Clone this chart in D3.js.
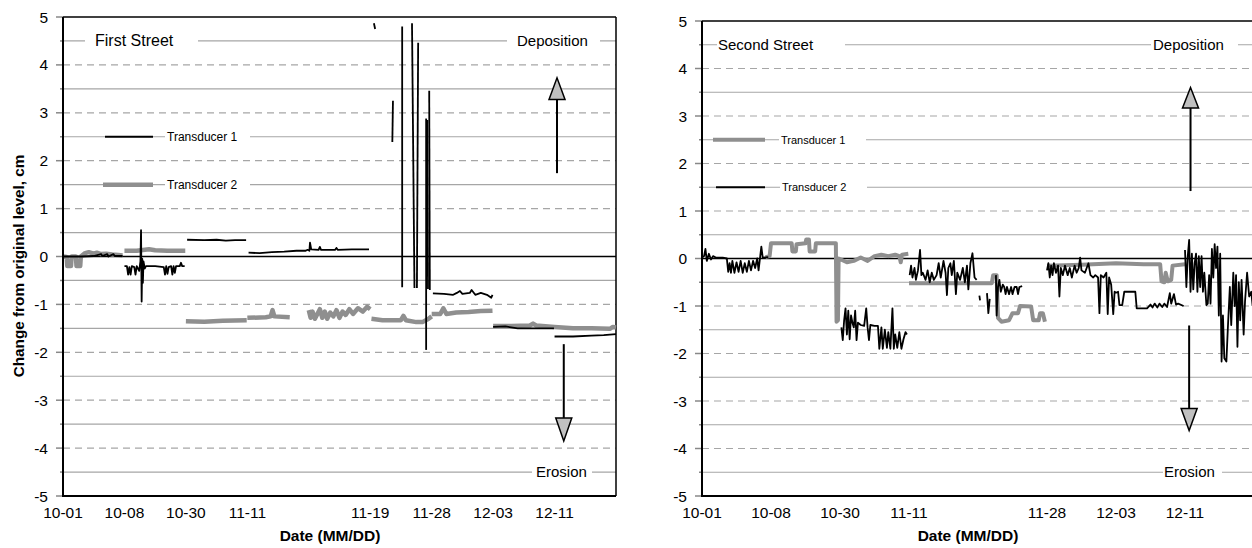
<!DOCTYPE html>
<html>
<body>
    <style>
        body, html {
            margin: 0;
            padding: 0;
            background: #fff;
        }

        svg {
            position: absolute;
            top: 0;
            left: 0;
            font-family: "Liberation Sans", Arial, sans-serif;
        }
    </style>

    <svg width="1252" height="548"></svg>

    <script src="https://cdn.jsdelivr.net/npm/d3@7"></script>

    <script>
        // x values are positions on the category axis (0 = first date label)
        var labels1 = ["10-01", "10-08", "10-30", "11-11", "", "11-19", "11-28", "12-03", "12-11"];
        var labels2 = ["10-01", "10-08", "10-30", "11-11", "", "11-28", "12-03", "12-11"];
        var yTicks = [-5, -4, -3, -2, -1, 0, 1, 2, 3, 4, 5];
        var yGrid = [-4.5, -4, -3.5, -3, -2.5, -2, -1.5, -1, -0.5, 0.5, 1, 1.5, 2, 2.5, 3, 3.5, 4, 4.5];

        // FIRST STREET - transducer 1 (black), segments
        var first1 = [
            [[0, 0], [0.3, 0], [0.5, 0.01], [0.62, 0.05], [0.64, 0.01], [0.72, 0.05], [0.74, 0], [0.82, 0.05], [0.84, 0.01], [0.97, 0.01]],
            [[1.0, -0.2], [1.04, -0.2], [1.06, -0.38], [1.08, -0.22], [1.1, -0.38], [1.12, -0.2], [1.16, -0.22], [1.18, -0.38], [1.2, -0.2],
             [1.24, -0.3], [1.26, -0.1], [1.27, 0.55], [1.28, -0.94], [1.29, -0.05], [1.3, -0.55], [1.31, -0.1], [1.33, -0.25], [1.35, -0.2],
             [1.5, -0.2], [1.64, -0.22], [1.66, -0.38], [1.68, -0.2], [1.7, -0.36], [1.72, -0.22], [1.76, -0.2], [1.78, -0.38], [1.8, -0.2],
             [1.82, -0.34], [1.84, -0.2], [1.9, -0.2], [1.92, -0.13], [1.94, -0.2], [1.98, -0.2]],
            [[2.02, 0.35], [2.3, 0.34], [2.5, 0.35], [2.65, 0.33], [2.8, 0.34], [2.98, 0.34]],
            [[3.02, 0.08], [3.2, 0.07], [3.4, 0.09], [3.6, 0.1], [3.8, 0.12], [3.95, 0.12], [3.98, 0.14], [4.01, 0.12], [4.02, 0.29],
             [4.04, 0.15], [4.16, 0.14], [4.18, 0.2], [4.2, 0.14], [4.43, 0.14], [4.45, 0.18], [4.47, 0.14], [4.7, 0.15], [4.98, 0.15]],
            [[5.06, 4.87], [5.08, 4.75]],
            [[5.37, 3.25], [5.36, 2.39]],
            [[5.52, 4.8], [5.52, -0.64]],
            [[5.68, 4.87], [5.72, -0.66]],
            [[5.78, 4.46], [5.76, -0.66]],
            [[5.91, 2.88], [5.91, -1.95]],
            [[5.93, 2.85], [5.94, -0.68]],
            [[5.96, 3.46], [5.97, -0.7]],
            [[6.02, -0.77], [6.2, -0.78], [6.35, -0.8], [6.41, -0.76], [6.46, -0.72], [6.5, -0.78], [6.62, -0.76], [6.65, -0.7],
             [6.71, -0.8], [6.8, -0.76], [6.9, -0.8], [6.97, -0.86], [6.99, -0.8]],
            [[7.0, -1.47], [7.2, -1.46], [7.4, -1.5], [7.6, -1.5], [7.8, -1.5], [7.99, -1.5]],
            [[8.0, -1.67], [8.3, -1.67], [8.6, -1.65], [8.8, -1.64], [9.0, -1.62]]
        ];

        // FIRST STREET - transducer 2 (gray)
        var first2 = [
            [[0, 0], [0.06, -0.01], [0.07, -0.2], [0.13, -0.2], [0.14, 0], [0.21, 0], [0.22, -0.2], [0.28, -0.2], [0.29, 0],
             [0.36, 0.07], [0.42, 0.09], [0.5, 0.06], [0.55, 0.08], [0.62, 0.05], [0.7, 0.06], [0.8, 0.04], [0.9, 0.03], [0.97, 0.02]],
            [[1.0, 0.12], [1.2, 0.12], [1.4, 0.15], [1.5, 0.13], [1.7, 0.12], [1.99, 0.12]],
            [[2.0, -1.35], [2.3, -1.36], [2.6, -1.34], [2.99, -1.33]],
            [[3.0, -1.28], [3.3, -1.27], [3.38, -1.25], [3.41, -1.12], [3.44, -1.25], [3.69, -1.27]],
            [[4.0, -1.12], [4.03, -1.28], [4.06, -1.15], [4.1, -1.3], [4.14, -1.2], [4.18, -1.1], [4.22, -1.28], [4.26, -1.15],
             [4.3, -1.3], [4.35, -1.17], [4.4, -1.25], [4.45, -1.12], [4.5, -1.28], [4.55, -1.15], [4.6, -1.22], [4.66, -1.1],
             [4.72, -1.2], [4.8, -1.08], [4.88, -1.15], [4.95, -1.05], [5.0, -1.1]],
            [[5.02, -1.3], [5.2, -1.33], [5.5, -1.33], [5.54, -1.24], [5.58, -1.33], [5.75, -1.37], [5.85, -1.37], [5.95, -1.3], [6.0, -1.25]],
            [[6.0, -1.2], [6.14, -1.2], [6.19, -1.08], [6.24, -1.2], [6.4, -1.17], [6.6, -1.16], [6.8, -1.14], [6.99, -1.13]],
            [[7.0, -1.45], [7.3, -1.45], [7.6, -1.44], [7.65, -1.4], [7.7, -1.44], [8.0, -1.47], [8.3, -1.5], [8.6, -1.5],
             [8.9, -1.51], [8.95, -1.47], [9.0, -1.48]]
        ];

        // SECOND STREET - transducer 1 (gray)
        var second1 = [
            [[0.92, 0.03], [0.98, 0.05], [1.0, 0.32], [1.3, 0.32], [1.31, 0.15], [1.36, 0.15], [1.37, 0.3], [1.5, 0.32], [1.51, 0.4],
             [1.55, 0.4], [1.56, 0.15], [1.64, 0.15], [1.65, 0.32], [1.94, 0.32], [1.95, -1.33], [1.97, -1.3], [1.98, 0.0],
             [2.1, -0.08], [2.2, -0.05], [2.3, 0.02], [2.4, -0.05], [2.5, 0.05], [2.6, 0.08], [2.7, 0.05], [2.8, 0.08],
             [2.86, 0.05], [2.88, -0.08], [2.9, 0.08], [2.99, 0.1]],
            [[3.0, -0.52], [4.2, -0.52], [4.22, -0.35], [4.27, -0.35], [4.29, -1.25], [4.34, -1.33], [4.45, -1.3], [4.5, -1.15],
             [4.58, -1.15], [4.61, -1.0], [4.77, -1.01], [4.8, -1.3], [4.88, -1.3], [4.9, -1.15], [4.94, -1.15], [4.97, -1.33]],
            [[5.0, -0.15], [5.5, -0.13], [6.0, -0.1], [6.4, -0.12], [6.64, -0.12], [6.66, -0.48], [6.7, -0.5], [6.72, -0.3],
             [6.75, -0.48], [6.8, -0.45], [6.82, -0.15], [7.0, -0.12]]
        ];

        // SECOND STREET - transducer 2 (black)
        var second2 = [
            [[0.0, 0.02], [0.03, 0.05], [0.05, 0.2], [0.07, -0.05], [0.1, 0.1], [0.13, -0.02], [0.16, 0.05], [0.2, 0.02], [0.3, 0.02],
             [0.36, 0.0], [0.38, -0.28], [0.4, -0.1], [0.42, -0.3], [0.44, -0.05], [0.47, -0.3], [0.5, -0.08], [0.53, -0.28],
             [0.56, -0.05], [0.59, -0.3], [0.62, -0.1], [0.65, -0.28], [0.68, -0.05], [0.71, -0.25], [0.74, -0.05], [0.77, -0.2],
             [0.8, 0.0], [0.82, -0.25], [0.84, 0.0], [0.86, 0.25], [0.88, 0.02], [0.96, 0.03]],
            [[2.02, -1.45], [2.04, -1.72], [2.06, -1.3], [2.08, -1.05], [2.1, -1.6], [2.12, -1.1], [2.14, -1.7], [2.16, -1.2],
             [2.18, -1.35], [2.2, -1.45], [2.22, -1.1], [2.24, -1.72], [2.26, -1.35], [2.3, -1.4], [2.35, -1.42], [2.38, -1.05],
             [2.4, -1.45], [2.42, -1.72], [2.44, -1.4], [2.5, -1.42], [2.55, -1.42], [2.57, -1.9], [2.6, -1.45], [2.62, -1.9],
             [2.65, -1.5], [2.68, -1.88], [2.7, -1.55], [2.73, -1.9], [2.76, -1.05], [2.78, -1.9], [2.8, -1.6], [2.83, -1.88],
             [2.86, -1.55], [2.89, -1.9], [2.92, -1.7], [2.95, -1.55], [2.97, -1.6]],
            [[3.01, -0.35], [3.03, -0.15], [3.05, -0.4], [3.08, -0.2], [3.1, -0.45], [3.13, -0.25], [3.16, 0.18], [3.18, -0.35],
             [3.2, -0.3], [3.24, -0.45], [3.27, -0.25], [3.3, -0.5], [3.33, -0.3], [3.36, -0.45], [3.4, -0.35], [3.43, -0.1],
             [3.46, -0.4], [3.5, -0.05], [3.53, -0.3], [3.55, -0.77], [3.57, -0.2], [3.6, -0.1], [3.62, -0.35], [3.65, -0.05],
             [3.68, -0.75], [3.7, -0.3], [3.74, -0.45], [3.78, -0.2], [3.81, -0.5], [3.84, -0.15], [3.86, -0.65], [3.89, -0.1],
             [3.92, 0.11], [3.95, -0.4], [3.98, -0.45]],
            [[4.02, -0.78], [4.03, -0.88]],
            [[4.13, -0.73], [4.15, -1.15], [4.17, -0.85]],
            [[4.26, -0.35], [4.27, -1.2], [4.29, -0.6], [4.31, -0.45], [4.33, -0.7], [4.36, -0.55], [4.38, -0.6], [4.4, -0.75],
             [4.42, -0.6], [4.45, -0.75], [4.48, -0.6], [4.5, -0.75], [4.53, -0.6], [4.56, -0.6], [4.58, -0.75], [4.6, -0.6], [4.64, -0.58]],
            [[5.0, -0.25], [5.02, -0.1], [5.04, -0.4], [5.06, -0.15], [5.08, -0.35], [5.1, -0.1], [5.13, -0.3], [5.16, -0.15],
             [5.18, -0.8], [5.2, -0.2], [5.23, -0.35], [5.26, -0.15], [5.3, -0.35], [5.33, -0.2], [5.36, -0.4], [5.4, -0.15],
             [5.43, -0.3], [5.46, -0.2], [5.48, 0.02], [5.5, -0.25], [5.55, -0.3], [5.6, -0.1], [5.63, -0.35], [5.67, -0.4],
             [5.7, -0.35], [5.74, -0.4], [5.76, -1.15], [5.78, -0.35], [5.82, -0.4], [5.86, -0.3], [5.88, -1.17], [5.9, -0.4],
             [5.93, -0.55], [5.96, -1.17], [5.98, -0.7], [6.0, -0.72], [6.03, -0.7], [6.05, -0.98], [6.09, -0.98], [6.12, -0.7],
             [6.28, -0.7], [6.3, -1.05], [6.45, -1.05], [6.5, -0.97], [6.53, -1.03], [6.56, -0.95], [6.6, -1.03], [6.63, -0.95],
             [6.67, -1.02], [6.7, -0.95], [6.74, -1.02], [6.78, -0.73], [6.8, -0.95], [6.84, -0.75], [6.87, -0.97], [6.9, -0.95], [6.98, -1.0]],
            [[7.0, 0.18], [7.02, -0.6], [7.04, 0.05], [7.06, 0.39], [7.08, -0.7], [7.1, 0.1], [7.12, -0.65], [7.14, -0.1], [7.16, 0.1],
             [7.18, -0.7], [7.2, 0.05], [7.22, -0.6], [7.24, 0.05], [7.26, -0.7], [7.28, -0.3], [7.31, -0.98], [7.33, -0.95],
             [7.35, -0.35], [7.37, -0.95], [7.39, 0.2], [7.41, -0.4], [7.43, 0.3], [7.45, -0.2], [7.47, 0.25], [7.49, -1.2],
             [7.51, 0.1], [7.53, -2.17], [7.55, -1.2], [7.57, -2.1], [7.6, -2.17], [7.62, -1.5], [7.65, -0.6], [7.67, -1.4],
             [7.7, -0.3], [7.72, -1.0], [7.74, -0.35], [7.76, -1.86], [7.78, -0.5], [7.8, -1.3], [7.82, -0.45], [7.85, -1.6],
             [7.87, -0.9], [7.9, -0.3], [7.93, -0.8], [7.96, -0.7], [7.98, -1.0]]
        ];

        // arrows: [x position, tail value, head base value, tip value]
        var arrows1 = [[8.04, 1.74, 3.28, 3.73], [8.15, -1.83, -3.37, -3.85]];
        var arrows2 = [[7.08, 1.42, 3.17, 3.6], [7.06, -1.41, -3.16, -3.62]];

        var blackColor = "#000";
        var grayColor = "#8f8f8f";
        var gridColor = "#a6a6a6";

        var panels = [
            {
                left: 63, right: 616, top: 17, bottom: 496, xMax: 9, labels: labels1,
                series: [
                    { data: first2, color: grayColor, width: 4.5 },
                    { data: first1, color: blackColor, width: 1.8 }
                ],
                arrows: arrows1,
                legend: [
                    { name: "Transducer 1", color: blackColor, width: 1.8, v: 2.5, x0: 105, x1: 153, tx: 167, box: [165, 250] },
                    { name: "Transducer 2", color: grayColor, width: 4.5, v: 1.5, x0: 103, x1: 153, tx: 167, box: [165, 250] }
                ],
                legendSize: 12,
                notes: [
                    { text: "First Street", v: 4.5, tx: 95, box: [85, 198], size: 16 },
                    { text: "Deposition", v: 4.5, tx: 517, box: [507, 600], size: 15 },
                    { text: "Erosion", v: -4.5, tx: 536, box: [532, 592], size: 15 }
                ],
                yTitle: true, xTitleX: 330, frameRight: true
            },
            {
                left: 702, right: 1254, top: 21, bottom: 496, xMax: 8, labels: labels2,
                series: [
                    { data: second1, color: grayColor, width: 4 },
                    { data: second2, color: blackColor, width: 1.8 }
                ],
                arrows: arrows2,
                legend: [
                    { name: "Transducer 1", color: grayColor, width: 4, v: 2.5, x0: 713, x1: 765, tx: 781, box: [779, 866] },
                    { name: "Transducer 2", color: blackColor, width: 1.8, v: 1.5, x0: 716, x1: 765, tx: 782, box: [780, 867] }
                ],
                legendSize: 11,
                notes: [
                    { text: "Second Street", v: 4.5, tx: 718, box: [717, 845], size: 15 },
                    { text: "Deposition", v: 4.5, tx: 1153, box: [1151, 1238], size: 15 },
                    { text: "Erosion", v: -4.5, tx: 1164, box: [1163, 1222], size: 15 }
                ],
                yTitle: false, xTitleX: 968, frameRight: false
            }
        ];

        var svg = d3.select("svg");

        panels.forEach(drawPanel);

        function drawPanel(p) {
            var x = d3.scaleLinear().domain([0, p.xMax]).range([p.left, p.right]);
            var y = d3.scaleLinear().domain([-5, 5]).range([p.bottom, p.top]);
            var g = svg.append("g");

            // GRID
            g.selectAll(".grid").data(yGrid).enter().append("line")
                .attr("x1", p.left).attr("x2", p.right)
                .attr("y1", function (d) { return y(d); })
                .attr("y2", function (d) { return y(d); })
                .attr("stroke", gridColor)
                .attr("stroke-width", 1.2)
                .attr("stroke-dasharray", function (d) { return d % 1 === 0 ? "7,5" : null; });

            // TOP / RIGHT FRAME
            g.append("line").attr("x1", p.left).attr("x2", p.right).attr("y1", p.top).attr("y2", p.top)
                .attr("stroke", "#000").attr("stroke-width", 1.5);
            if (p.frameRight) {
                g.append("line").attr("x1", p.right).attr("x2", p.right).attr("y1", p.top).attr("y2", p.bottom)
                    .attr("stroke", "#000").attr("stroke-width", 1.5);
            }

            // Y TICKS
            g.selectAll(".major").data(yTicks).enter().append("line")
                .attr("x1", p.left - 7).attr("x2", p.left)
                .attr("y1", function (d) { return y(d); })
                .attr("y2", function (d) { return y(d); })
                .attr("stroke", "#888").attr("stroke-width", 1.5);
            g.selectAll(".minor").data(yGrid.filter(function (d) { return d % 1 !== 0; })).enter().append("line")
                .attr("x1", p.left - 3).attr("x2", p.left)
                .attr("y1", function (d) { return y(d); })
                .attr("y2", function (d) { return y(d); })
                .attr("stroke", "#888").attr("stroke-width", 1.5);
            g.selectAll(".ylab").data(yTicks).enter().append("text")
                .attr("x", p.left - 15)
                .attr("y", function (d) { return y(d) + 5.5; })
                .attr("text-anchor", "end")
                .attr("font-size", 15.5)
                .text(function (d) { return d; });

            // X LABELS
            g.selectAll(".xlab").data(p.labels).enter().append("text")
                .attr("x", function (d, i) { return x(i); })
                .attr("y", p.bottom + 22)
                .attr("text-anchor", "middle")
                .attr("font-size", 15.5)
                .text(function (d) { return d; });

            g.append("text")
                .attr("x", p.xTitleX).attr("y", p.bottom + 45)
                .attr("text-anchor", "middle")
                .attr("font-size", 15.5).attr("font-weight", "bold")
                .text("Date (MM/DD)");

            if (p.yTitle) {
                g.append("text")
                    .attr("transform", "translate(24,266) rotate(-90)")
                    .attr("text-anchor", "middle")
                    .attr("font-size", 15.3).attr("font-weight", "bold")
                    .text("Change from original level, cm");
            }

            // LABEL BOXES
            p.notes.forEach(function (n) {
                g.append("rect")
                    .attr("x", n.box[0]).attr("width", n.box[1] - n.box[0])
                    .attr("y", y(n.v) - 9).attr("height", 18)
                    .attr("fill", "#fff");
                g.append("text")
                    .attr("x", n.tx).attr("y", y(n.v) + 5)
                    .attr("font-size", n.size)
                    .text(n.text);
            });

            // LEGEND
            p.legend.forEach(function (l) {
                g.append("rect")
                    .attr("x", l.box[0]).attr("width", l.box[1] - l.box[0])
                    .attr("y", y(l.v) - 8).attr("height", 16)
                    .attr("fill", "#fff");
                g.append("line")
                    .attr("x1", l.x0).attr("x2", l.x1)
                    .attr("y1", y(l.v)).attr("y2", y(l.v))
                    .attr("stroke", l.color).attr("stroke-width", l.width);
                g.append("text")
                    .attr("x", l.tx).attr("y", y(l.v) + 4)
                    .attr("font-size", p.legendSize)
                    .text(l.name);
            });

            // ZERO LINE
            g.append("line").attr("x1", p.left).attr("x2", p.right).attr("y1", y(0)).attr("y2", y(0))
                .attr("stroke", "#000").attr("stroke-width", 1.5);

            // SERIES
            var line = d3.line()
                .x(function (d) { return x(d[0]); })
                .y(function (d) { return y(d[1]); });

            p.series.forEach(function (s) {
                g.selectAll(null).data(s.data).enter().append("path")
                    .attr("d", line)
                    .attr("fill", "none")
                    .attr("stroke", s.color)
                    .attr("stroke-width", s.width)
                    .attr("stroke-linejoin", "round");
            });

            // ARROWS
            p.arrows.forEach(function (a) {
                var ax = x(a[0]);
                g.append("line")
                    .attr("x1", ax).attr("x2", ax)
                    .attr("y1", y(a[1])).attr("y2", y(a[2]))
                    .attr("stroke", "#000").attr("stroke-width", 2);
                g.append("path")
                    .attr("d", "M" + (ax - 8) + "," + y(a[2]) + "L" + (ax + 8) + "," + y(a[2]) + "L" + ax + "," + y(a[3]) + "Z")
                    .attr("fill", "#c0c0c0")
                    .attr("stroke", "#000").attr("stroke-width", 1.5);
            });

            // AXES
            g.append("line").attr("x1", p.left).attr("x2", p.left).attr("y1", p.top).attr("y2", p.bottom + 1)
                .attr("stroke", "#000").attr("stroke-width", 2);
            g.append("line").attr("x1", p.left).attr("x2", p.right).attr("y1", p.bottom).attr("y2", p.bottom)
                .attr("stroke", "#000").attr("stroke-width", 2);
        }
    </script>
</body>
</html>
